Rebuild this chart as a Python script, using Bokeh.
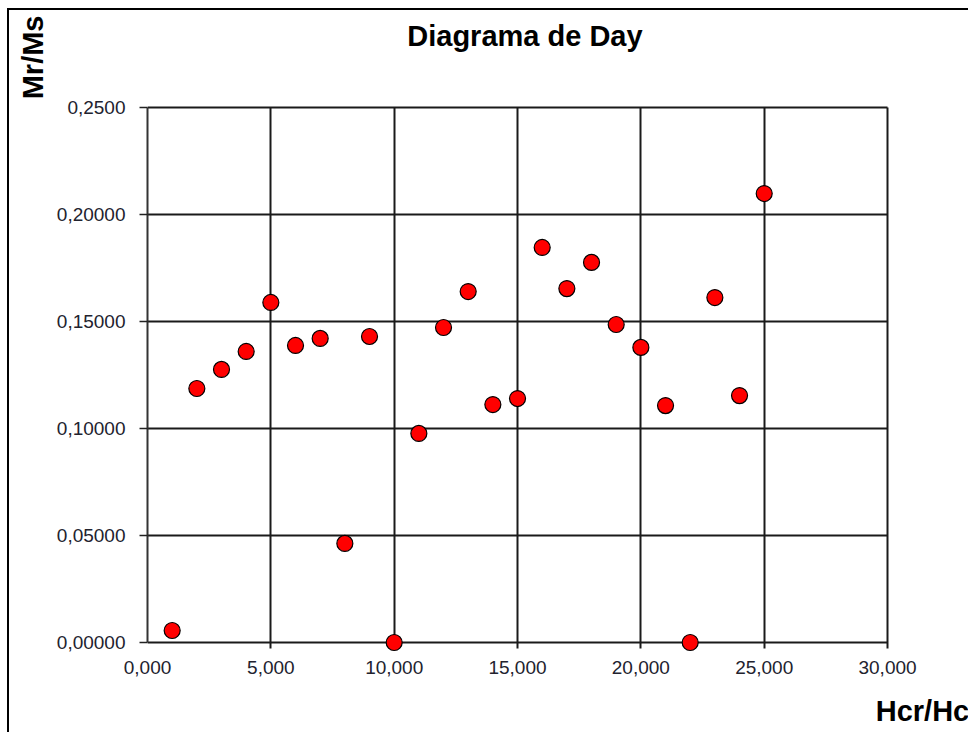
from bokeh.plotting import figure
from bokeh.models import Range1d, FixedTicker, Title, Label, ColumnDataSource
from bokeh.embed import file_html
from bokeh.resources import INLINE

# ---- data ----
hcr_hc = [1, 2, 3, 4, 5, 6, 7, 8, 9, 10, 11, 12, 13, 14, 15, 16, 17, 18, 19, 20, 21, 22, 23, 24, 25]
mr_ms = [0.0056, 0.1187, 0.1276, 0.1360, 0.1589, 0.1388, 0.1421, 0.0463, 0.1430, 0.0000,
         0.0977, 0.1472, 0.1640, 0.1112, 0.1140, 0.1846, 0.1654, 0.1776, 0.1486, 0.1379,
         0.1107, 0.0000, 0.1612, 0.1154, 0.2098]

x_ticks = [0, 5, 10, 15, 20, 25, 30]
x_tick_labels = ["0,000", "5,000", "10,000", "15,000", "20,000", "25,000", "30,000"]
y_ticks = [0, 0.05, 0.1, 0.15, 0.2, 0.25]
y_tick_labels = ["0,00000", "0,05000", "0,10000", "0,15000", "0,20000", "0,2500"]

title_text = "Diagrama de Day"
x_label = "Hcr/Hc"
y_label = "Mr/Ms"

FONT = "Liberation Sans"

# frame runs to the top edge of the canvas so that the title there is not clipped
p = figure(width=961, height=724, output_backend="svg", toolbar_location=None,
           x_range=Range1d(0, 31.417), y_range=Range1d(-0.004206, 0.29533),
           min_border_left=137, min_border_right=48, min_border_top=0, min_border_bottom=83)
p.styles = {"border-top": "2px solid black", "border-left": "2px solid black",
            "margin-left": "7px", "margin-top": "8px"}
p.outline_line_color = None
p.background_fill_color = "white"
p.border_fill_color = "white"

src = ColumnDataSource(dict(x=hcr_hc, y=mr_ms))

# axes
p.xaxis.ticker = FixedTicker(ticks=x_ticks)
p.yaxis.ticker = FixedTicker(ticks=y_ticks)
p.xaxis.major_label_overrides = {t: l for t, l in zip(x_ticks, x_tick_labels)}
p.yaxis.major_label_overrides = {t: l for t, l in zip(y_ticks, y_tick_labels)}
p.yaxis.bounds = (0, 0.25)
for ax in (p.xaxis, p.yaxis):
    ax.major_tick_in = 0
    ax.minor_tick_line_color = None
    ax.major_label_text_font = FONT
    ax.major_label_text_font_size = "19px"
    ax.major_label_text_color = "#22222e"
p.xaxis.axis_line_color = None
p.xaxis.major_tick_line_color = None
p.xaxis.major_tick_out = 0
p.xaxis.major_label_standoff = 9
p.yaxis.axis_line_color = "#333333"
p.yaxis.axis_line_width = 2
p.yaxis.major_tick_line_color = "#222222"
p.yaxis.major_tick_line_width = 1.5
p.yaxis.major_tick_out = 8
p.yaxis.major_label_standoff = 14

# x axis title, at the right end of the axis
xa = p.xaxis[0]
if "axis_label_align" in xa.properties():
    xa.axis_label = x_label
    xa.axis_label_align = "end"
    xa.axis_label_text_font = FONT
    xa.axis_label_text_font_size = "29px"
    xa.axis_label_text_font_style = "bold"
    xa.axis_label_text_color = "black"
    xa.axis_label_standoff = 18
else:
    p.add_layout(Title(text=x_label, align="right", offset=-48, text_font=FONT, text_font_size="29px",
                       text_font_style="bold", text_color="black", standoff=22), "below")

# y axis title (rotated, at the top left)
p.add_layout(Title(text=y_label, align="right", offset=5, text_font=FONT, text_font_size="29px",
                   text_font_style="bold", text_color="black", standoff=10), "left")

# main title inside the (extended) frame
p.add_layout(Label(x=15.30, y=0.28364, text=title_text, text_font=FONT, text_font_size="29px",
                   text_font_style="bold", text_align="center", text_baseline="alphabetic",
                   text_color="black"))

# grids
xg = p.xgrid[0]
yg = p.ygrid[0]
for g in (xg, yg):
    g.grid_line_color = "#1a1a1a"
    g.grid_line_width = 2
has_cross = "cross_bounds" in xg.properties()
if has_cross:
    xg.cross_bounds = (-0.0028, 0.25)
    yg.cross_bounds = (0, 30)
else:
    xg.grid_line_color = None
    yg.grid_line_color = None
    p.segment(x0=x_ticks, y0=[-0.0028] * len(x_ticks), x1=x_ticks, y1=[0.25] * len(x_ticks),
              line_color="#1a1a1a", line_width=2, level="underlay")
    p.segment(x0=[0] * len(y_ticks), y0=y_ticks, x1=[30] * len(y_ticks), y1=y_ticks,
              line_color="#1a1a1a", line_width=2, level="underlay")

p.scatter("x", "y", source=src, size=16, fill_color="#ff0000", line_color="#000000", line_width=1.2)

open("out.html", "w").write(file_html(p, INLINE))
